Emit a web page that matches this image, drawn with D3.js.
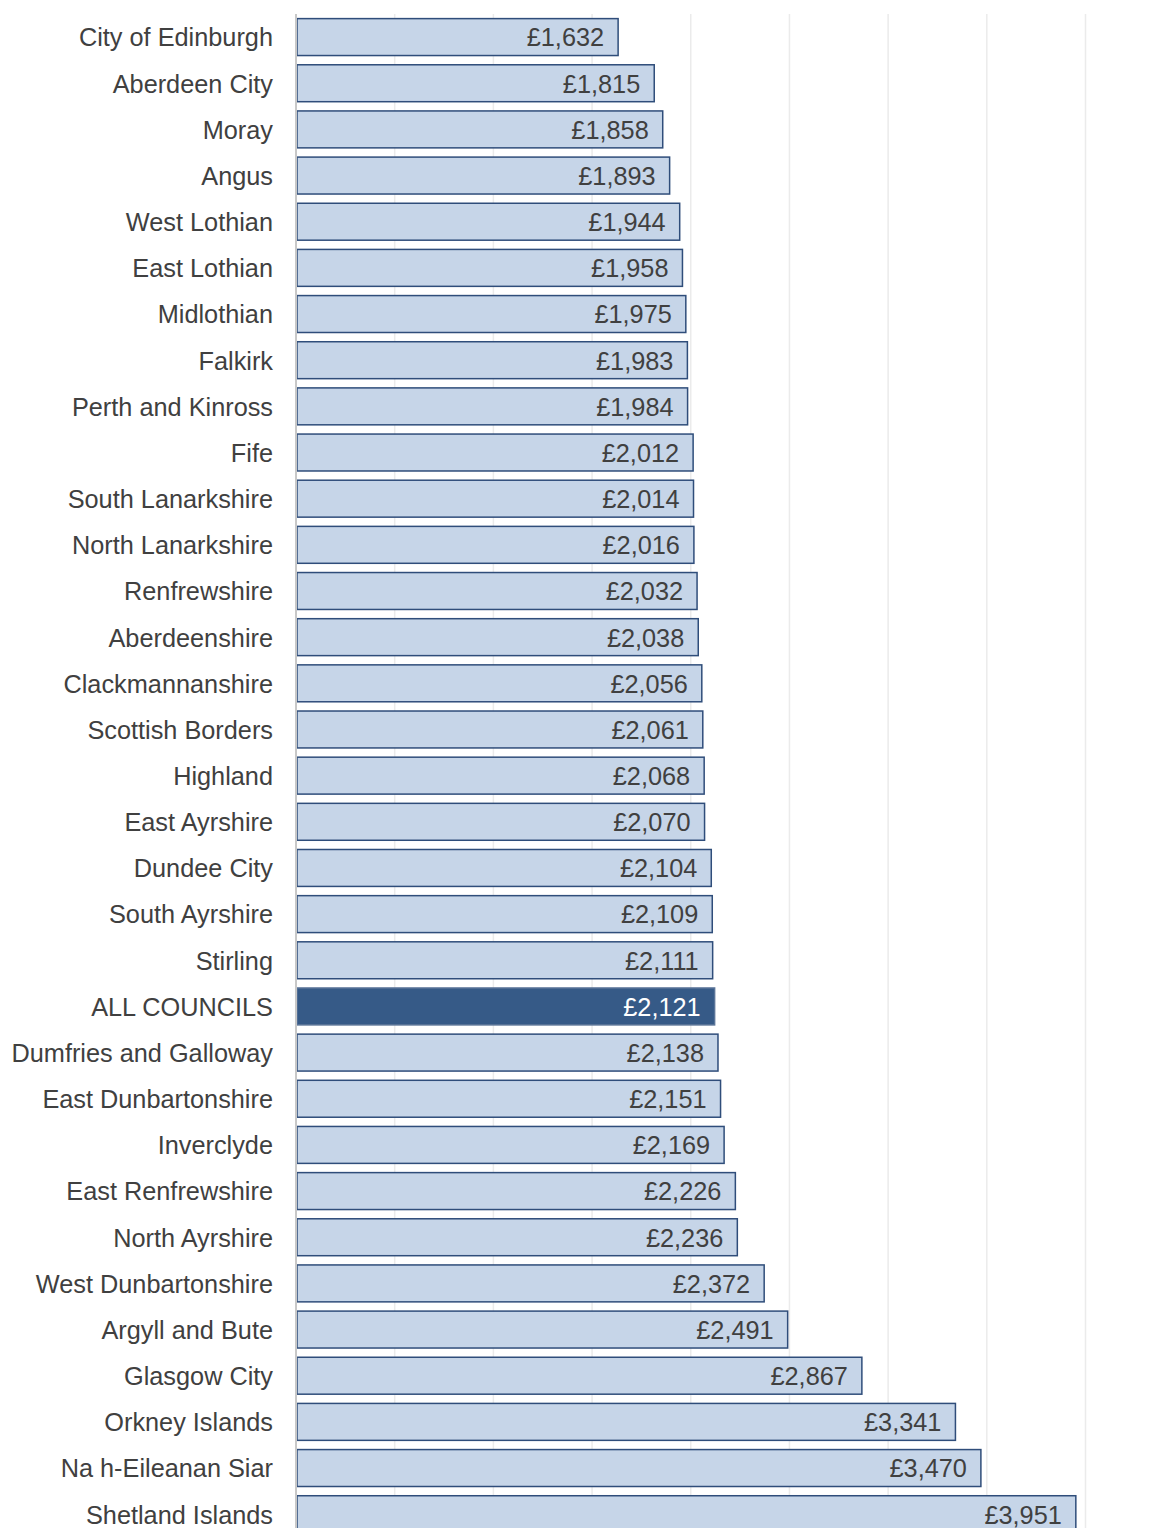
<!DOCTYPE html>
<html>
<head>
<meta charset="utf-8">
<script src="https://cdn.jsdelivr.net/npm/d3@7"></script>
<style>
  body { margin: 0; background: #fff; }
  svg text { font-family: "Liberation Sans", Arial, sans-serif; }
</style>
</head>
<body>
<script>
// council names, top to bottom
var councils = ["City of Edinburgh", "Aberdeen City", "Moray", "Angus", "West Lothian",
  "East Lothian", "Midlothian", "Falkirk", "Perth and Kinross", "Fife",
  "South Lanarkshire", "North Lanarkshire", "Renfrewshire", "Aberdeenshire",
  "Clackmannanshire", "Scottish Borders", "Highland", "East Ayrshire", "Dundee City",
  "South Ayrshire", "Stirling", "ALL COUNCILS", "Dumfries and Galloway",
  "East Dunbartonshire", "Inverclyde", "East Renfrewshire", "North Ayrshire",
  "West Dunbartonshire", "Argyll and Bute", "Glasgow City", "Orkney Islands",
  "Na h-Eileanan Siar", "Shetland Islands"];

// cost per unit (£)
var costs = [1632, 1815, 1858, 1893, 1944, 1958, 1975, 1983, 1984, 2012,
  2014, 2016, 2032, 2038, 2056, 2061, 2068, 2070, 2104, 2109,
  2111, 2121, 2138, 2151, 2169, 2226, 2236, 2372, 2491, 2867,
  3341, 3470, 3951];

var gridTicks = [500, 1000, 1500, 2000, 2500, 3000, 3500, 4000];
var highlight = "ALL COUNCILS";

var width = 1170, height = 1528;

var data = councils.map(function(c, i) { return {name: c, value: costs[i]}; });

var x = d3.scaleLinear().domain([0, 4000]).range([296, 1085.5]);
var y = d3.scaleBand().domain(councils).range([14, 14 + 33 * 46.16]).paddingInner(0.2).paddingOuter(0.1);

var svg = d3.select("body").append("svg")
  .attr("width", width)
  .attr("height", height);

// gridlines
svg.append("g").selectAll("line")
  .data(gridTicks)
  .enter().append("line")
  .attr("x1", function(d) { return x(d); })
  .attr("x2", function(d) { return x(d); })
  .attr("y1", 14)
  .attr("y2", height)
  .attr("stroke", "#ebebeb")
  .attr("stroke-width", 1.5);

// bars
svg.append("g").selectAll("rect")
  .data(data)
  .enter().append("rect")
  .attr("x", x(0) + 1)
  .attr("y", function(d) { return y(d.name); })
  .attr("width", function(d) { return x(d.value) - x(0) - 1; })
  .attr("height", y.bandwidth())
  .attr("fill", function(d) { return d.name === highlight ? "#365a87" : "#c6d5e8"; })
  .attr("stroke", function(d) { return d.name === highlight ? "#5a7498" : "#2f4d7a"; })
  .attr("stroke-width", 1.5);

// zero axis line
svg.append("line")
  .attr("x1", x(0)).attr("x2", x(0))
  .attr("y1", 14).attr("y2", height)
  .attr("stroke", "#c8c8c8")
  .attr("stroke-width", 2);

// category labels
svg.append("g").selectAll("text")
  .data(data)
  .enter().append("text")
  .attr("x", 273)
  .attr("y", function(d) { return y(d.name) + y.bandwidth() / 2; })
  .attr("dy", "0.37em")
  .attr("text-anchor", "end")
  .attr("font-size", 25.3)
  .attr("fill", "#404040")
  .text(function(d) { return d.name; });

// value labels
var fmt = d3.format(",");
svg.append("g").selectAll("text")
  .data(data)
  .enter().append("text")
  .attr("x", function(d) { return x(d.value) - 14; })
  .attr("y", function(d) { return y(d.name) + y.bandwidth() / 2; })
  .attr("dy", "0.37em")
  .attr("text-anchor", "end")
  .attr("font-size", 25.3)
  .attr("fill", function(d) { return d.name === highlight ? "#ffffff" : "#404040"; })
  .text(function(d) { return "£" + fmt(d.value); });
</script>
</body>
</html>
